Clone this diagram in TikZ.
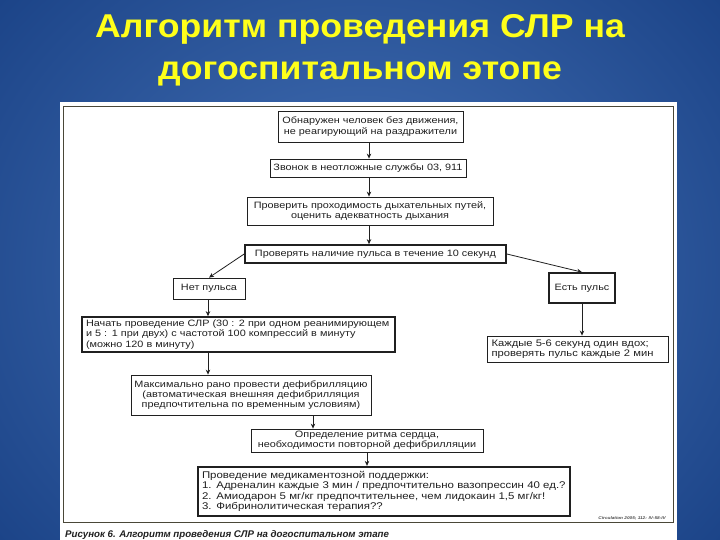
\documentclass[tikz,border=0pt]{standalone}
\usepackage{fontspec}
\usetikzlibrary{arrows.meta}
\newfontfamily\bodyfont{Liberation Sans}[FakeStretch=1.18]
\newfontfamily\capfont{Liberation Sans}
\newfontfamily\titlefont{Liberation Sans}[FakeStretch=1.08]
\definecolor{bgout}{HTML}{1B4387}
\definecolor{bgin}{HTML}{4673B8}
\definecolor{titleyellow}{HTML}{FFFF1A}
\definecolor{ink}{HTML}{202020}
\definecolor{framecol}{HTML}{4A4738}
\begin{document}
\begin{tikzpicture}[x=1pt,y=-1pt,
  box/.style={draw=ink, line width=0.8pt, fill=white, text=ink,
    font=\bodyfont\fontsize{9.2}{10.2}\selectfont, inner sep=1pt, align=center},
  heavy/.style={line width=1.7pt},
  heavier/.style={line width=2.3pt},
  arr/.style={draw=ink, line width=0.8pt, -{Stealth[length=5pt,width=4.5pt]}},
  ttl/.style={text=titleyellow, font=\titlefont\bfseries\fontsize{33}{38}\selectfont, anchor=base}
]
\useasboundingbox (0,0) rectangle (720,540);
% background
\shade[inner color=bgin, outer color=bgout] (-120,-160) rectangle (840,700);
% title
\node[ttl] (t1) at (360,37.5) {Алгоритм проведения СЛР на};
\node[ttl] (t2) at (360,79.5) {догоспитальном этопе};
% white panel and frame
\fill[white] (60,102) rectangle (677,540);
\draw[framecol, line width=0.9pt] (63,106) rectangle (673,522);
% boxes
\node[box, minimum width=185, minimum height=31] (b1) at (370.5,126.5)
  {Обнаружен человек без движения,\\не реагирующий на раздражители};
\node[box, minimum width=196, minimum height=18] (b2) at (368,168)
  {Звонок в неотложные службы 03, 911};
\node[box, minimum width=246, minimum height=28] (b3) at (370,211)
  {Проверить проходимость дыхательных путей,\\оценить адекватность дыхания};
\node[box, heavy, minimum width=261, minimum height=18] (b4) at (375.5,254)
  {Проверять наличие пульса в течение 10 секунд};
\node[box, minimum width=72, minimum height=21] (b5) at (209,288.5)
  {Нет пульса};
\node[box, heavy, minimum width=66, minimum height=30] (b6) at (582,288)
  {Есть пульс};
\node[box, align=left, text width=172, inner sep=3pt,
  font=\bodyfont\fontsize{9.5}{10.6}\selectfont,
  minimum width=181, minimum height=26] (b7) at (577.5,349)
  {Каждые 5-6 секунд один вдох;\\проверять пульс каждые 2 мин};
\node[box, heavy, align=left, text width=305, inner sep=3pt,
  minimum width=313, minimum height=31] (b8) at (238.5,334.5)
  {Начать проведение СЛР (30 : 2 при одном реанимирующем\\и 5 : 1 при двух) с частотой 100 компрессий в минуту\\(можно 120 в минуту)};
\node[box, minimum width=240, minimum height=40] (b9) at (251,395)
  {Максимально рано провести дефибрилляцию\\(автоматическая внешняя дефибрилляция\\предпочтительна по временным условиям)};
\node[box, minimum width=232, minimum height=23] (b10) at (367,440.5)
  {Определение ритма сердца,\\необходимости повторной дефибрилляции};
\node[box, heavier, align=left, text width=364, inner sep=3pt,
  font=\bodyfont\fontsize{9.7}{10.4}\selectfont,
  minimum width=372, minimum height=49] (b11) at (384,491.5)
  {Проведение медикаментозной поддержки:\\1. Адреналин каждые 3 мин / предпочтительно вазопрессин 40 ед.?\\2. Амиодарон 5 мг/кг предпочтительнее, чем лидокаин 1,5 мг/кг!\\3. Фибринолитическая терапия??};
% connectors
\coordinate (sp) at (369,0);
\coordinate (lf) at (208,0);
\coordinate (mid) at (313,0);
\draw[arr] (sp |- b1.south) -- (sp |- b2.north);
\draw[arr] (sp |- b2.south) -- (sp |- b3.north);
\draw[arr] (sp |- b3.south) -- (sp |- b4.north);
\draw[arr] (b4.west) -- (b5.north);
\draw[arr] (b4.east) -- (b6.north);
\draw[arr] (lf |- b5.south) -- (lf |- b8.north);
\draw[arr] (b6.south) -- (b6.south |- b7.north);
\draw[arr] (lf |- b8.south) -- (lf |- b9.north);
\draw[arr] (mid |- b9.south) -- (mid |- b10.north);
\draw[arr] (b10.south) -- (b10.south |- b11.north);
% caption and source
\node[anchor=base west, text=ink, inner sep=0pt,
  font=\capfont\bfseries\itshape\fontsize{9.7}{12}\selectfont] (cap) at (65,537)
  {Рисунок 6. Алгоритм проведения СЛР на догоспитальном этапе};
\node[anchor=base east, text=ink!80, inner sep=0pt,
  font=\bodyfont\bfseries\itshape\fontsize{4}{5}\selectfont] (src) at (666,519)
  {Circulation 2005; 112: IV-58-IV};
\end{tikzpicture}
\end{document}
